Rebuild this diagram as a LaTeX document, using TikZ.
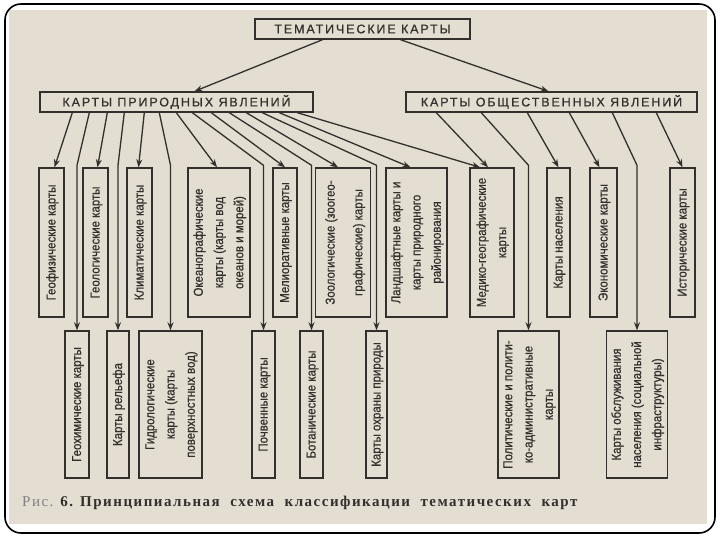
\documentclass[tikz,border=0pt]{standalone}
\usepackage{fontspec}
\setmainfont{Liberation Serif}
\newfontfamily\boxf[FakeStretch=0.88,FakeBold=0.6]{Liberation Sans}
\newfontfamily\hdrf[LetterSpace=15,FakeBold=0.6]{Liberation Sans}
\newfontfamily\capf[LetterSpace=10]{Liberation Serif}
\usetikzlibrary{arrows.meta}
\definecolor{bg}{RGB}{228,222,210}
\definecolor{ink}{RGB}{50,47,44}
\newcommand\vtxt[2][1.35]{\rotatebox{90}{\def\arraystretch{#1}\begin{tabular}{@{}c@{}}#2\end{tabular}}}
\newcommand\bx[6]{\node[vbox, minimum width={(#3-#2)*1pt}, minimum height={(#5-#4)*1pt}] (#1) at ({(#2+#3)/2},{(#4+#5)/2}) {#6};}
\tikzset{
 vbox/.style={draw=ink, line width=1.4pt, fill=bg, inner sep=0pt, text=ink, font=\boxf\fontsize{13}{15}\selectfont},
 hbox/.style={draw=ink, line width=1.4pt, fill=bg, inner sep=0pt, text=ink, font=\hdrf\fontsize{12.5}{14}\selectfont},
 arr/.style={draw=ink, line width=1.3pt, -{Stealth[length=8pt,width=6pt]}},
}
\begin{document}
\begin{tikzpicture}[x=1pt,y=-1pt]
\useasboundingbox (0,0) rectangle (720,540);
\fill[white] (0,0) rectangle (720,540);
\begin{scope}
\clip[rounded corners=16pt] (5,4) rectangle (715,533);
\fill[bg] (9,10) rectangle (707,524);
\end{scope}
\draw[black, line width=1.6pt, rounded corners=16pt] (5,4) rectangle (715,533);

% headers
\node[hbox, minimum width=215pt, minimum height=20pt] (T) at (362.5,29) {ТЕМАТИЧЕСКИЕ КАРТЫ};
\node[hbox, minimum width=273pt, minimum height=20pt] (prirod) at (176.5,102) {КАРТЫ ПРИРОДНЫХ ЯВЛЕНИЙ};
\node[hbox, minimum width=291pt, minimum height=20pt] (obsh) at (551.5,102) {КАРТЫ ОБЩЕСТВЕННЫХ ЯВЛЕНИЙ};

% row 1
\bx{geofiz}{39}{64}{168}{317}{\vtxt{Геофизические карты}}
\bx{geolog}{83}{108}{168}{317}{\vtxt{Геологические карты}}
\bx{klimat}{127}{152}{168}{317}{\vtxt{Климатические карты}}
\bx{okean}{188}{250}{168}{317}{\vtxt{Океанографические\\карты (карты вод\\океанов и морей)}}
\bx{melior}{273}{297}{168}{317}{\vtxt{Мелиоративные карты}}
\bx{zoolog}{320}{366}{168}{317}{\vtxt[1.85]{Зоологические (зоогео-\\графические) карты}}
\bx{landsh}{386}{447}{168}{317}{\vtxt{Ландшафтные карты и\\карты природного\\районирования}}
\bx{mediko}{470}{514}{168}{317}{\vtxt{Медико-географические\\карты}}
\bx{naselen}{547}{570}{168}{317}{\vtxt{Карты населения}}
\bx{ekonom}{590}{617}{168}{317}{\vtxt{Экономические карты}}
\bx{istor}{670}{695}{168}{317}{\vtxt{Исторические карты}}

% row 2
\bx{geohim}{65}{89}{331}{478}{\vtxt{Геохимические карты}}
\bx{relief}{107}{129}{331}{478}{\vtxt{Карты рельефа}}
\bx{gidrol}{139}{202}{331}{478}{\vtxt{Гидрологические\\карты (карты\\поверхностных вод)}}
\bx{pochv}{252}{275}{331}{478}{\vtxt{Почвенные карты}}
\bx{botan}{300}{323}{331}{478}{\vtxt{Ботанические карты}}
\bx{ohrana}{366}{387}{331}{478}{\vtxt{Карты охраны природы}}
\bx{polit}{498}{559}{331}{478}{\vtxt{Политические и полити-\\ко-административные\\карты}}
\bx{obsl}{607}{667}{331}{478}{\vtxt{Карты обслуживания\\населения (социальной\\инфраструктуры)}}

% top connectors
\draw[arr] ([xshift=-40pt]T.south) -- ([xshift=18pt]prirod.north);
\draw[arr] ([xshift=38pt]T.south) -- ([xshift=-3pt]obsh.north);

% natural phenomena
\draw[arr] ([xshift=33pt]prirod.south west) -- ([xshift=3pt]geofiz.north);
\draw[arr] ([xshift=50pt]prirod.south west) -- ([yshift=165pt]geohim.north) -- (geohim.north);
\draw[arr] ([xshift=68pt]prirod.south west) -- ([xshift=2pt]geolog.north);
\draw[arr] ([xshift=85pt]prirod.south west) -- ([yshift=165pt]relief.north) -- (relief.north);
\draw[arr] ([xshift=105pt]prirod.south west) -- ([xshift=-1pt]klimat.north);
\draw[arr] ([xshift=120pt]prirod.south west) -- ([yshift=165pt]gidrol.north) -- (gidrol.north);
\draw[arr] ([xshift=137pt]prirod.south west) -- ([xshift=-2pt]okean.north);
\draw[arr] ([xshift=153pt]prirod.south west) -- ([yshift=165pt]pochv.north) -- (pochv.north);
\draw[arr] ([xshift=172pt]prirod.south west) -- (melior.north);
\draw[arr] ([xshift=190pt]prirod.south west) -- ([yshift=165pt]botan.north) -- (botan.north);
\draw[arr] ([xshift=207pt]prirod.south west) -- ([xshift=-5pt]zoolog.north);
\draw[arr] ([xshift=223pt]prirod.south west) -- ([yshift=165pt]ohrana.north) -- (ohrana.north);
\draw[arr] ([xshift=240pt]prirod.south west) -- ([xshift=-6pt]landsh.north);
\draw[arr] ([xshift=258pt]prirod.south west) -- ([xshift=-12pt]mediko.north);

% social phenomena
\draw[arr] ([xshift=31pt]obsh.south west) -- ([xshift=-4pt]mediko.north);
\draw[arr] ([xshift=76pt]obsh.south west) -- ([yshift=165pt]polit.north) -- (polit.north);
\draw[arr] ([xshift=122pt]obsh.south west) -- (naselen.north);
\draw[arr] ([xshift=164pt]obsh.south west) -- ([xshift=-4pt]ekonom.north);
\draw[arr] ([xshift=207pt]obsh.south west) -- ([yshift=165pt]obsl.north) -- (obsl.north);
\draw[arr] ([xshift=251pt]obsh.south west) -- (istor.north);

% caption
\node[anchor=base west, inner sep=0pt, text=ink, font=\capf\fontsize{15}{17}\selectfont] (cap) at (22,506)
 {{\color{gray}Рис.} \textbf{6. Принципиальная\ \ схема\ \ классификации\ \ тематических\ \ карт}};
\end{tikzpicture}
\end{document}
